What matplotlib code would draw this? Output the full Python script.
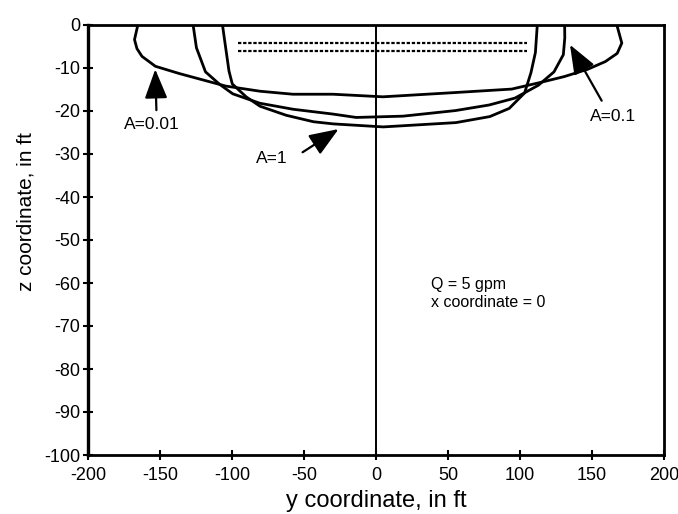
import matplotlib
matplotlib.use("Agg")
import matplotlib.pyplot as plt

plt.rcParams['font.family'] = ['Liberation Sans', 'DejaVu Sans']
plt.rcParams['axes.unicode_minus'] = False

# ---- data ----
a001_y = [-165.4, -167.7, -166.0, -162.5, -153.2, -136.5, -115.5, -104.4, -80.6, -57.7,
          -29.9, 4.8, 55.4, 94.3, 114.9, 130.7, 147.0, 159.3, 167.5, 170.7, 167.5]
a001_z = [0.0, -3.4, -5.5, -7.3, -9.6, -11.3, -13.2, -14.2, -15.4, -16.1,
          -16.1, -16.7, -15.7, -14.9, -13.3, -12.0, -10.3, -8.5, -6.6, -4.2, -0.3]

a01_y = [-127.0, -124.7, -118.4, -108.6, -99.5, -80.6, -57.5, -30.2, -13.8, 18.7,
         55.2, 78.6, 96.5, 112.8, 123.6, 130.1, 131.1, 131.0]
a01_z = [0.0, -5.3, -10.9, -13.8, -16.0, -18.2, -19.6, -20.7, -21.5, -21.2,
         -19.9, -18.6, -17.0, -14.0, -10.9, -6.9, -3.0, 0.0]

a1_y = [-106.6, -105.4, -102.1, -99.8, -90.2, -80.5, -62.3, -43.4, -29.6, 5.0,
        55.5, 79.0, 92.5, 103.2, 107.6, 110.7, 112.0]
a1_z = [0.0, -2.9, -10.7, -13.7, -16.7, -18.9, -21.0, -22.5, -23.0, -23.7,
        -22.7, -21.3, -19.4, -15.8, -11.1, -6.4, 0.0]

trench_y = [-95.5, 105.0]
trench_z1 = [-4.2, -4.2]
trench_z2 = [-6.0, -6.0]

xticks = [-200, -150, -100, -50, 0, 50, 100, 150, 200]
yticks = [0, -10, -20, -30, -40, -50, -60, -70, -80, -90, -100]

labels = ["A=0.01", "A=0.1", "A=1"]
label_pos = [(-156, -23.1), (164.7, -21.3), (-72.5, -31.0)]
arrow_tail = [(-152.5, -19.8), (156.7, -17.6), (-51.0, -29.6)]
arrow_tip = [(-153.3, -10.3), (134.7, -4.6), (-26.0, -24.2)]

# ---- figure ----
fig = plt.figure(figsize=(6.78, 5.14), dpi=100)
ax = fig.add_axes([88 / 678, 1 - 455 / 514, 576 / 678, 430 / 514])

lw = 2.0
ax.plot(a001_y, a001_z, color='black', lw=lw, solid_joinstyle='round')
ax.plot(a01_y, a01_z, color='black', lw=lw, solid_joinstyle='round')
ax.plot(a1_y, a1_z, color='black', lw=lw, solid_joinstyle='round')
ax.plot(trench_y, trench_z1, color='black', lw=1.6, linestyle=(0, (1.5, 0.8)))
ax.plot(trench_y, trench_z2, color='black', lw=1.6, linestyle=(0, (1.5, 0.8)))
ax.axvline(0, color='black', lw=1.4)

for lab, lp, tl, tp in zip(labels, label_pos, arrow_tail, arrow_tip):
    ax.text(lp[0], lp[1], lab, ha='center', va='center', fontsize=12.5)
    ax.annotate('', xy=tp, xytext=tl,
                arrowprops=dict(arrowstyle='-|>,head_length=0.9,head_width=0.35',
                                mutation_scale=20, color='black', lw=1.6,
                                shrinkA=0, shrinkB=0))

ax.text(38, -60.3, "Q = 5 gpm", ha='left', va='center', fontsize=11.5)
ax.text(38, -64.5, "x coordinate = 0", ha='left', va='center', fontsize=11.5)

ax.set_xlim(-200, 200)
ax.set_ylim(-100, 0)
ax.set_xticks(xticks)
ax.set_yticks(yticks)
ax.set_xticklabels([str(v) for v in xticks])
ax.set_yticklabels([str(v) for v in yticks])
ax.tick_params(axis='both', direction='inout', length=7, width=1.5, labelsize=13)
ax.tick_params(axis='x', pad=5)
ax.tick_params(axis='y', pad=2)

for side in ['top', 'right', 'bottom']:
    ax.spines[side].set_linewidth(2.0)
ax.spines['left'].set_linewidth(2.4)

ax.set_xlabel("y coordinate, in ft", fontsize=17)
ax.set_ylabel("z coordinate, in ft", fontsize=15)
ax.xaxis.set_label_coords(0.5, -0.082)
ax.yaxis.set_label_coords(-0.092, 0.567)

fig.savefig("out.png", dpi=100)
